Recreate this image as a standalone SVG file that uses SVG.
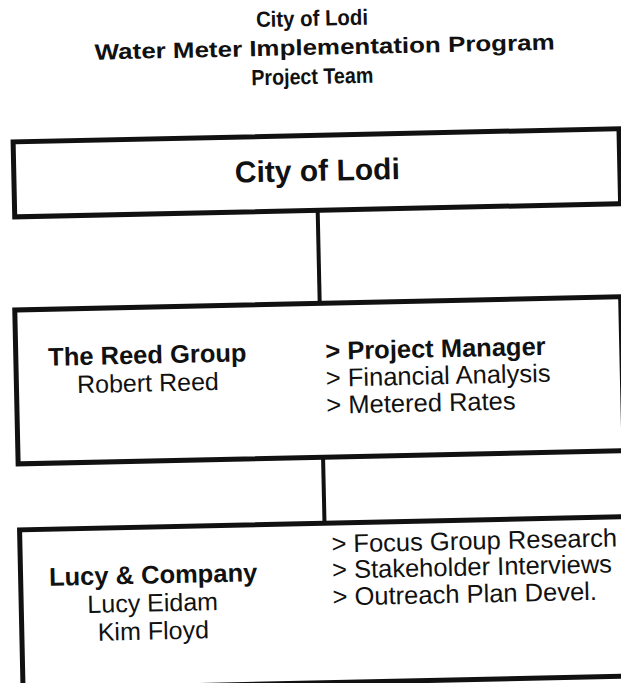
<svg xmlns="http://www.w3.org/2000/svg" width="621" height="683" viewBox="0 0 621 683">
  <style>
    .box { fill: none; stroke: #111; stroke-width: 5; }
    .link { stroke: #111; stroke-width: 4; fill: none; }
    text { font-family: "Liberation Sans", Arial, sans-serif; fill: #111; }
    .title { font-size: 22px; font-weight: bold; text-anchor: middle; }
    .head { font-size: 30px; font-weight: bold; text-anchor: middle; }
    .org { font-size: 25.5px; font-weight: bold; text-anchor: middle; }
    .person { font-size: 25px; text-anchor: middle; }
    .task { font-size: 25.5px; }
    .task-b { font-size: 25.5px; font-weight: bold; }
  </style>
  <rect width="621" height="683" fill="#fff"/>
  <!-- whole page is set slightly askew -->
  <g transform="rotate(-1.25 310 340)">
    <g id="title">
      <text class="title" x="319" y="26" textLength="112" lengthAdjust="spacingAndGlyphs">City of Lodi</text>
      <text class="title" x="331" y="55" textLength="460" lengthAdjust="spacingAndGlyphs">Water Meter Implementation Program</text>
      <text class="title" x="318" y="84" textLength="122" lengthAdjust="spacingAndGlyphs">Project Team</text>
    </g>

    <g id="connectors">
      <line class="link" x1="320.5" y1="211" x2="320.5" y2="303"/>
      <line class="link" x1="320.5" y1="458" x2="320.5" y2="524"/>
    </g>

    <g id="city">
      <rect class="box" x="17.5" y="135.5" width="606" height="75"/>
      <text class="head" x="321" y="181">City of Lodi</text>
    </g>

    <g id="reed">
      <rect class="box" x="15.5" y="303.5" width="606" height="154"/>
      <text class="org" x="147" y="360">The Reed Group</text>
      <text class="person" x="147" y="388">Robert Reed</text>
      <text class="task-b" x="325" y="360">&gt; Project Manager</text>
      <text class="task" x="325" y="387">&gt; Financial Analysis</text>
      <text class="task" x="325" y="414">&gt; Metered Rates</text>
    </g>

    <g id="lucy">
      <rect class="box" x="15.5" y="523.5" width="606" height="159.5"/>
      <text class="org" x="148" y="580">Lucy &amp; Company</text>
      <text class="person" x="147" y="608">Lucy Eidam</text>
      <text class="person" x="147" y="636">Kim Floyd</text>
      <text class="task" x="327" y="553">&gt; Focus Group Research</text>
      <text class="task" x="327" y="579">&gt; Stakeholder Interviews</text>
      <text class="task" x="327" y="606">&gt; Outreach Plan Devel.</text>
    </g>
  </g>
</svg>
